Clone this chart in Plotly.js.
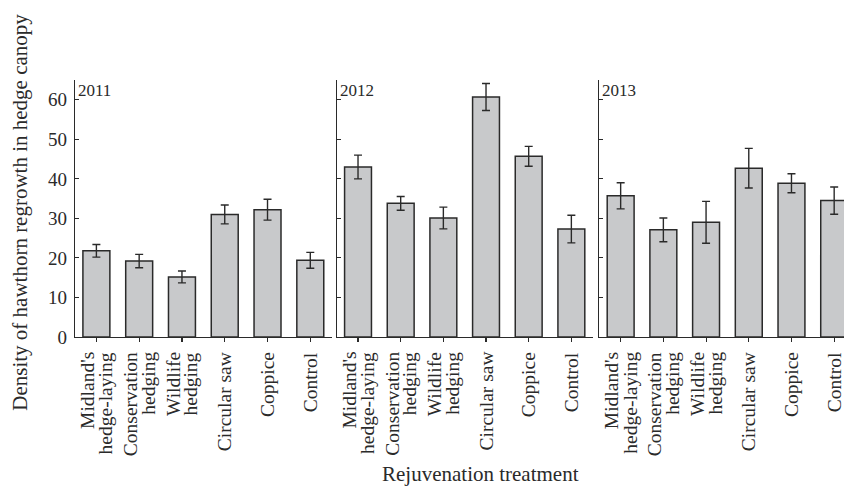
<!DOCTYPE html>
<html>
<head>
<meta charset="utf-8">
<script src="https://cdn.plot.ly/plotly-3.0.1.min.js"></script>
<style>body{margin:0;padding:0;background:#fff}#chart{width:844px;height:486px}</style>
</head>
<body>
<div id="chart"></div>
<script>
const categories = ["Midland's hedge-laying", "Conservation hedging", "Wildlife hedging", "Circular saw", "Coppice", "Control"];
const labelLines = [["Midland's", "hedge-laying"], ["Conservation", "hedging"], ["Wildlife", "hedging"], ["Circular saw"], ["Coppice"], ["Control"]];
const years = ["2011", "2012", "2013"];
const values2011 = [21.8, 19.2, 15.2, 31.0, 32.2, 19.4];
const errors2011 = [1.6, 1.7, 1.5, 2.4, 2.65, 2.0];
const values2012 = [43.0, 33.8, 30.1, 60.7, 45.7, 27.3];
const errors2012 = [3.0, 1.75, 2.75, 3.4, 2.5, 3.5];
const values2013 = [35.7, 27.1, 29.0, 42.7, 38.9, 34.5];
const errors2013 = [3.3, 3.0, 5.3, 5.0, 2.4, 3.45];

const FONT = "Liberation Serif, Times New Roman, serif";
const INK = "#2a2a2a";
const series = [[values2011, errors2011], [values2012, errors2012], [values2013, errors2013]];
const axSuffix = ["", "2", "3"];

const traces = series.map((s, i) => ({
  type: "bar",
  x: categories,
  y: s[0],
  xaxis: "x" + axSuffix[i],
  yaxis: "y" + axSuffix[i],
  width: 0.63,
  marker: {color: "#c8c9cb", line: {color: INK, width: 1.5}},
  error_y: {type: "data", array: s[1], visible: true, color: INK, thickness: 1.4, width: 4},
  showlegend: false,
  hoverinfo: "skip"
}));

const domains = [[0, 0.3338], [0.3403, 0.6732], [0.6818, 1]];
const xRanges = [[-0.5, 5.5], [-0.5, 5.5], [-0.5, 5.23]];

const layout = {
  width: 844, height: 486,
  margin: {l: 75, r: 0, t: 80, b: 149},
  paper_bgcolor: "#fff", plot_bgcolor: "#fff",
  font: {family: FONT, size: 19, color: INK},
  annotations: [],
  showlegend: false
};

for (let i = 0; i < 3; i++) {
  const s = axSuffix[i];
  layout["xaxis" + s] = {
    domain: domains[i],
    range: xRanges[i],
    type: "category",
    categoryarray: categories, categoryorder: "array",
    anchor: "y" + s,
    showline: true, linecolor: INK, linewidth: 1.1,
    ticks: "outside", ticklen: 4, tickcolor: INK, tickwidth: 1.1,
    showticklabels: false,
    showgrid: false, zeroline: false, fixedrange: true
  };
  layout["yaxis" + s] = {
    range: [0, 65],
    anchor: "x" + s,
    dtick: 10, tick0: 0,
    showline: true, linecolor: INK, linewidth: 1.1,
    ticks: "inside", ticklen: 4, tickcolor: INK, tickwidth: 1.1,
    showticklabels: i === 0,
    tickfont: {family: FONT, size: 19, color: INK},
    ticklabelstandoff: 3,
    showgrid: false, zeroline: false, fixedrange: true
  };
  layout.annotations.push({
    text: years[i],
    xref: "x" + s + " domain", yref: "y" + s + " domain",
    x: 0, y: 1, xanchor: "left", yanchor: "top",
    xshift: 1, yshift: 1,
    showarrow: false,
    font: {family: FONT, size: 17, color: INK}
  });
  // category labels, one annotation per text line, rotated
  categories.forEach((c, k) => {
    const lines = labelLines[k];
    lines.forEach((ln, j) => {
      const off = lines.length === 1 ? 0 : (j === 0 ? -9 : 9);
      layout.annotations.push({
        text: ln,
        xref: "x" + s, yref: "y" + s + " domain",
        x: c, y: 0,
        xanchor: "center", yanchor: "top",
        xshift: off, yshift: -13,
        textangle: -90,
        showarrow: false,
        font: {family: FONT, size: 19.5, color: INK}
      });
    });
  });
}

layout.annotations.push({
  text: "Density of hawthorn regrowth in hedge canopy",
  xref: "paper", yref: "paper",
  x: -0.071, y: 0.485,
  xanchor: "center", yanchor: "middle",
  textangle: -90, showarrow: false,
  font: {family: FONT, size: 21, color: INK}
});
layout.annotations.push({
  text: "Rejuvenation treatment",
  xref: "paper", yref: "paper",
  x: 0.527, y: -0.535,
  xanchor: "center", yanchor: "middle",
  showarrow: false,
  font: {family: FONT, size: 21, color: INK}
});

Plotly.newPlot("chart", traces, layout, {displayModeBar: false, staticPlot: true});
</script>
</body>
</html>
